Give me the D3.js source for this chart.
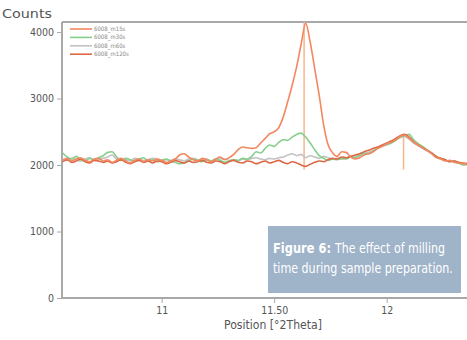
<!DOCTYPE html>
<html>
<head>
<meta charset="utf-8">
<script src="https://cdn.jsdelivr.net/npm/d3@7"></script>
<style>
  body { margin: 0; background: #fff; }
  svg { display: block; }
  text { font-family: "DejaVu Sans", sans-serif; font-stretch: condensed; }
</style>
</head>
<body>
<div id="chart"></div>
<script>
// x grid: °2Theta, one value every 0.02
const thetaStart = 10.56;
const thetaStep = 0.02;

const seriesNames = ["6008_m15s", "6008_m30s", "6008_m60s", "6008_m120s"];
const seriesColors = ["#f4875f", "#86cf8b", "#c2c2c2", "#dc6844"];

const countsA = [
  2070,2100,2060,2090,2110,2070,2050,2090,2100,2060,
  2080,2040,2070,2100,2060,2030,2070,2090,2050,2080,
  2060,2090,2070,2040,2060,2090,2150,2170,2120,2080,
  2060,2100,2080,2050,2090,2120,2080,2110,2160,2230,
  2270,2260,2250,2260,2330,2400,2470,2500,2560,2720,
  2950,3200,3480,3820,4130,3850,3450,3050,2600,2300,
  2180,2130,2200,2190,2120,2090,2110,2150,2170,2200,
  2250,2280,2320,2340,2380,2430,2450,2400,2340,2300,
  2260,2220,2170,2110,2090,2060,2070,2040,2030,2020,
  2030
];
const countsB = [
  2180,2120,2090,2130,2080,2060,2100,2080,2110,2140,
  2190,2200,2120,2070,2100,2080,2050,2090,2110,2060,
  2080,2050,2070,2090,2060,2040,2020,2030,2060,2090,
  2070,2050,2080,2060,2090,2070,2040,2060,2080,2070,
  2100,2090,2130,2200,2180,2250,2300,2280,2340,2380,
  2370,2420,2460,2480,2420,2330,2230,2140,2100,2070,
  2090,2080,2100,2090,2120,2110,2140,2180,2170,2210,
  2260,2290,2310,2330,2370,2420,2440,2460,2380,2320,
  2280,2230,2180,2130,2100,2080,2050,2060,2030,2000,
  2010
];
const countsC = [
  2090,2070,2100,2080,2060,2090,2110,2070,2080,2100,
  2120,2150,2090,2070,2080,2060,2100,2090,2070,2080,
  2100,2090,2060,2080,2070,2090,2080,2060,2090,2100,
  2080,2070,2090,2060,2080,2100,2090,2070,2080,2060,
  2090,2080,2100,2110,2090,2080,2100,2090,2110,2120,
  2150,2170,2140,2160,2110,2140,2120,2100,2130,2110,
  2090,2100,2090,2110,2130,2120,2150,2170,2190,2220,
  2250,2280,2300,2330,2380,2410,2430,2390,2330,2290,
  2250,2210,2170,2120,2090,2070,2060,2040,2030,2020,
  2020
];
const countsD = [
  2050,2080,2040,2060,2090,2050,2030,2070,2060,2040,
  2060,2030,2050,2080,2040,2020,2050,2070,2040,2060,
  2030,2060,2050,2020,2040,2070,2050,2030,2060,2040,
  2050,2070,2040,2030,2060,2050,2020,2050,2070,2040,
  2030,2060,2050,2020,2040,2060,2030,2050,2070,2040,
  2020,2050,2030,2000,1980,2010,2040,2060,2050,2080,
  2100,2090,2120,2110,2130,2150,2170,2200,2220,2250,
  2270,2300,2330,2360,2400,2440,2460,2420,2350,2300,
  2260,2220,2180,2130,2100,2080,2050,2060,2040,2030,
  2010
];

// peak position markers
const markerPos = [11.633, 12.075];
const markerTop = [4150, 2460];
const markerBottom = 1930;

const yTicks = [0, 1000, 2000, 3000, 4000];
const xTicks = [11, 11.5, 12];
const xTickLabels = ["11", "11.50", "12"];

const captionBold = "Figure 6:";
const captionLines = ["The effect of milling", "time during sample preparation."];

const width = 467, height = 340;
const plotLeft = 62, plotRight = 467, plotTop = 22, plotBottom = 298;

const x = d3.scaleLinear().domain([10.557, 12.357]).range([plotLeft, plotRight]);
const y = d3.scaleLinear().domain([0, 4000]).range([plotBottom, 32]);

const svg = d3.select("#chart").append("svg")
  .attr("width", width)
  .attr("height", height);

svg.append("defs").append("clipPath").attr("id", "plot")
  .append("rect")
  .attr("x", plotLeft).attr("y", plotTop)
  .attr("width", plotRight - plotLeft).attr("height", plotBottom - plotTop);

// frame: top line, left and bottom axes
svg.append("line")
  .attr("x1", plotLeft).attr("x2", plotRight).attr("y1", plotTop).attr("y2", plotTop)
  .attr("stroke", "#a9a9a9").attr("stroke-width", 2);

const yAxis = svg.append("g")
  .attr("transform", `translate(${plotLeft},0)`)
  .call(d3.axisLeft(y).tickValues(yTicks).tickSize(5).tickPadding(3).tickFormat(d3.format("d")));
yAxis.select(".domain").attr("d", `M0,${plotTop}V${plotBottom}`).attr("stroke", "#a9a9a9").attr("stroke-width", 2);

const xAxis = svg.append("g")
  .attr("transform", `translate(0,${plotBottom})`)
  .call(d3.axisBottom(x).tickValues(xTicks).tickSize(5).tickPadding(4)
    .tickFormat((d, i) => xTickLabels[i]));
xAxis.select(".domain").attr("d", `M${plotLeft},0H${plotRight}`).attr("stroke", "#a9a9a9").attr("stroke-width", 2);

svg.selectAll(".tick line").attr("stroke", "#aaa");
svg.selectAll(".tick text").attr("fill", "#555").attr("font-size", 10.5)
  .style("font-family", '"DejaVu Sans", sans-serif').style("font-stretch", "condensed");

svg.append("text")
  .attr("x", 2).attr("y", 18)
  .attr("fill", "#555").attr("font-size", 13)
  .attr("textLength", 50).attr("lengthAdjust", "spacingAndGlyphs")
  .text("Counts");

svg.append("text")
  .attr("x", 273).attr("y", 329)
  .attr("text-anchor", "middle")
  .attr("fill", "#555").attr("font-size", 12.5)
  .attr("textLength", 98).attr("lengthAdjust", "spacingAndGlyphs")
  .text("Position [°2Theta]");

// data lines
const plot = svg.append("g").attr("clip-path", "url(#plot)");

const allCounts = [countsA, countsB, countsC, countsD];
const series = allCounts.map((vals, k) => ({
  name: seriesNames[k],
  color: seriesColors[k],
  points: vals.map((v, i) => [thetaStart + thetaStep * i, v])
}));

const line = d3.line()
  .x(d => x(d[0]))
  .y(d => y(d[1]))
  .curve(d3.curveMonotoneX);

plot.selectAll("line.marker")
  .data(markerPos)
  .join("line")
  .attr("class", "marker")
  .attr("x1", d => x(d)).attr("x2", d => x(d))
  .attr("y1", (d, i) => y(markerTop[i]))
  .attr("y2", y(markerBottom))
  .attr("stroke", "#f7b58f").attr("stroke-width", 1.5);

// draw order: gray, green, dark red, then tall orange on top
[2, 1, 3, 0].forEach(k => {
  plot.append("path")
    .datum(series[k].points)
    .attr("fill", "none")
    .attr("stroke", series[k].color)
    .attr("stroke-width", 1.6)
    .attr("stroke-linejoin", "round")
    .attr("d", line);
});

// legend
const legend = svg.append("g").attr("transform", "translate(70,29)");
const row = legend.selectAll("g")
  .data(series)
  .join("g")
  .attr("transform", (d, i) => `translate(0,${i * 8.4})`);
row.append("line")
  .attr("x1", 0).attr("x2", 22)
  .attr("stroke", d => d.color).attr("stroke-width", 1.6);
row.append("text")
  .attr("x", 24).attr("y", 2)
  .attr("font-size", 6).attr("fill", "#888")
  .text(d => d.name);

// caption box; text squeezed horizontally to mimic the condensed face
const cap = svg.append("g");
cap.append("rect")
  .attr("x", 268).attr("y", 226)
  .attr("width", 193).attr("height", 67)
  .attr("fill", "#9fb3c9");

function squeezed(str, x0, y0, w, bold) {
  const t = cap.append("text")
    .attr("fill", "#fff").attr("font-size", 13.5)
    .attr("font-weight", bold ? "bold" : null)
    .text(str);
  const natural = t.node().getComputedTextLength();
  t.attr("transform", `translate(${x0},${y0}) scale(${w / natural},1)`);
}
squeezed(captionBold, 273, 253, 58, true);
squeezed(captionLines[0], 335, 253, 110, false);
squeezed(captionLines[1], 273, 273, 180, false);
</script>
</body>
</html>
